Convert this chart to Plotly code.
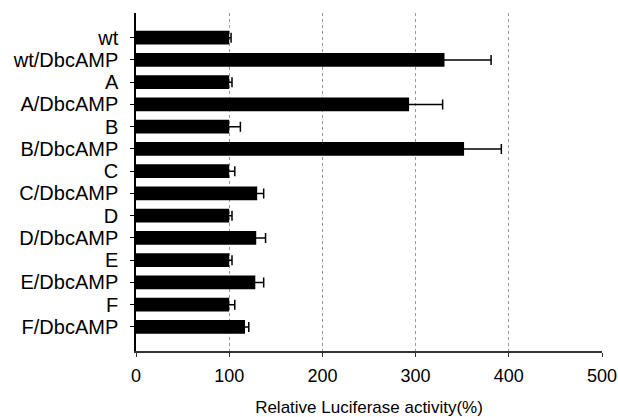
import plotly.graph_objects as go

categories = ["wt", "wt/DbcAMP", "A", "A/DbcAMP", "B", "B/DbcAMP", "C", "C/DbcAMP",
              "D", "D/DbcAMP", "E", "E/DbcAMP", "F", "F/DbcAMP"]
values = [100, 331, 100, 293, 100, 352, 100, 130, 100, 129, 100, 128, 100, 117]
errors = [2, 50, 3, 36, 12, 40, 6, 7, 3, 10, 3, 9, 6, 4]
x_ticks = [0, 100, 200, 300, 400, 500]

fig = go.Figure(go.Bar(
    x=values, y=categories, orientation="h",
    marker=dict(color="black", line=dict(width=0)),
    width=0.62,
    error_x=dict(type="data", array=errors, visible=True, color="black",
                 thickness=1.5, width=5),
))

fig.update_layout(
    width=618, height=417,
    margin=dict(l=136, r=16, t=13, b=66, autoexpand=False),
    paper_bgcolor="white", plot_bgcolor="white",
    font=dict(family="Liberation Sans, Arial, sans-serif", color="black"),
    showlegend=False,
    bargap=0.38,
)
fig.update_xaxes(
    range=[0, 500], tickvals=x_ticks, ticktext=[str(v) for v in x_ticks],
    showgrid=True, gridcolor="#999", griddash="dot", gridwidth=1,
    showline=True, linecolor="#333", linewidth=2,
    ticks="outside", ticklen=4, tickcolor="#333",
    tickfont=dict(size=18), zeroline=False, automargin=False,
    ticklabelstandoff=3,
    title=dict(text="Relative Luciferase activity(%)", font=dict(size=17), standoff=19),
)
fig.update_yaxes(
    categoryorder="array", categoryarray=categories,
    tickmode="array", tickvals=categories, ticktext=categories,
    range=[14.08, -1.11], automargin=False,
    showline=True, linecolor="black", linewidth=1.5,
    ticks="outside", ticklen=4, tickcolor="black",
    tickfont=dict(size=20), showgrid=False, ticklabelstandoff=8,
)

fig.write_html("out.html")
